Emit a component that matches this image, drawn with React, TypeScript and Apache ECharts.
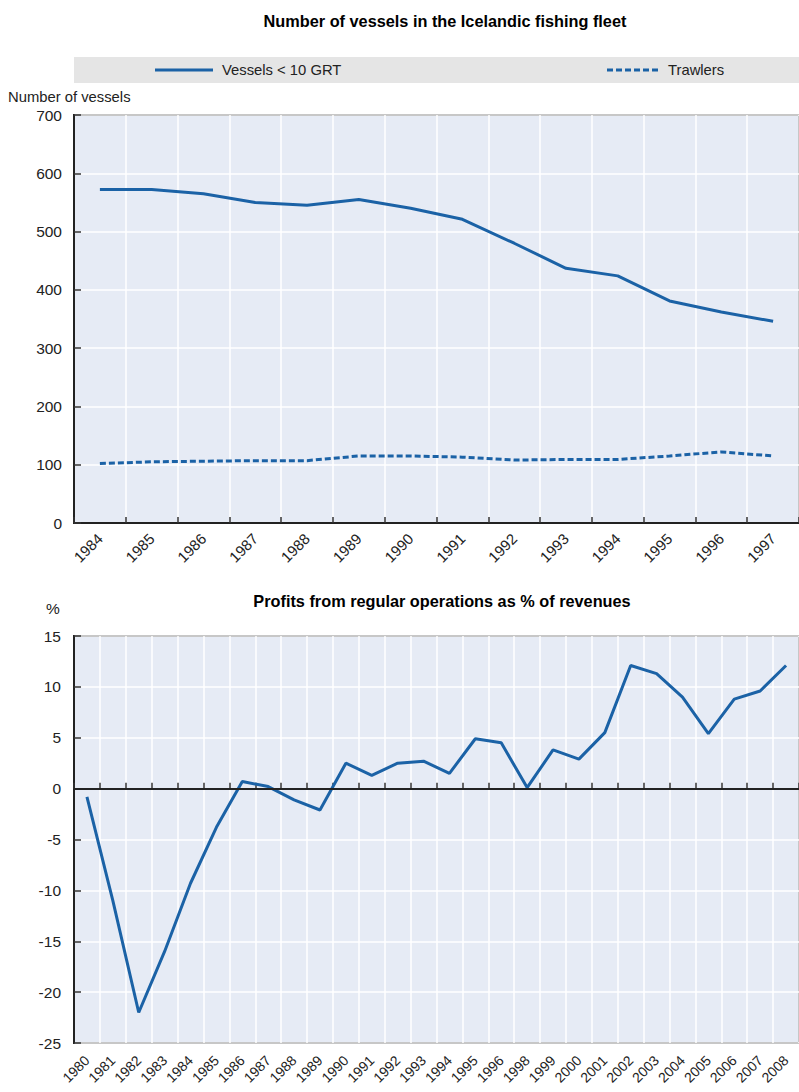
import React, { useEffect, useRef } from 'react';
import * as echarts from 'echarts';

const fleetYears = ['1984', '1985', '1986', '1987', '1988', '1989', '1990', '1991', '1992', '1993', '1994', '1995', '1996', '1997'];
const smallVessels = [572, 572, 565, 550, 545, 555, 540, 521, 480, 437, 424, 381, 362, 346];
const trawlers = [102, 105, 106, 107, 107, 115, 115, 113, 108, 109, 109, 115, 122, 115];

const profitYears = ['1980', '1981', '1982', '1983', '1984', '1985', '1986', '1987', '1988', '1989', '1990', '1991', '1992', '1993', '1994', '1995', '1996', '1998', '1999', '2000', '2001', '2002', '2003', '2004', '2005', '2006', '2007', '2008'];
const profits = [-0.8, -11, -22, -16, -9.3, -3.8, 0.7, 0.2, -1.1, -2.1, 2.5, 1.3, 2.5, 2.7, 1.5, 4.9, 4.5, 0.1, 3.8, 2.9, 5.5, 12.1, 11.3, 9.0, 5.4, 8.8, 9.6, 12.1];

const legendNames = ['Vessels < 10 GRT', 'Trawlers'];

const SANS = '"Liberation Sans", Arial, Helvetica, sans-serif';
const BLUE = '#1b62a6';
const DARK = '#222';
const PLOT_BG = '#e6ebf5';

export default function App() {
  const ref = useRef<HTMLDivElement>(null);
  useEffect(() => {
    const chart = echarts.init(ref.current!, undefined, { renderer: 'svg' });
    const gridCommon = {
      show: true,
      backgroundColor: PLOT_BG,
      borderColor: DARK,
      borderWidth: 2,
    };
    const splitWhite = { show: true, lineStyle: { color: '#ffffff', width: 1.5 } };
    const axisLineDark = { show: true, lineStyle: { color: DARK, width: 2 } };
    const tickInside = (len: number) => ({ show: true, inside: true, length: len, lineStyle: { color: '#333', width: 1.5 } });
    chart.setOption({
      animation: false,
      title: [
        {
          text: 'Number of vessels in the Icelandic fishing fleet',
          left: 440,
          top: 8,
          textAlign: 'center',
          textStyle: { fontFamily: SANS, fontWeight: 'bold', fontSize: 16.3, color: '#000' },
        },
        {
          text: 'Profits from regular operations as % of revenues',
          left: 437,
          top: 588,
          textAlign: 'center',
          textStyle: { fontFamily: SANS, fontWeight: 'bold', fontSize: 16.3, color: '#000' },
        },
      ],
      graphic: [
        { type: 'rect', z: -10, shape: { x: 74, y: 57, width: 725, height: 26 }, style: { fill: '#e5e5e5' } },
        { type: 'line', shape: { x1: 155, y1: 70, x2: 213, y2: 70 }, style: { stroke: BLUE, lineWidth: 3 } },
        {
          type: 'text',
          x: 222,
          y: 70,
          style: { text: legendNames[0], fontFamily: SANS, fontSize: 14.8, fill: DARK, verticalAlign: 'middle' },
        },
        {
          type: 'line',
          shape: { x1: 607, y1: 70, x2: 660, y2: 70 },
          style: { stroke: BLUE, lineWidth: 3, lineDash: [6, 3] },
        },
        {
          type: 'text',
          x: 668,
          y: 70,
          style: { text: legendNames[1], fontFamily: SANS, fontSize: 14.8, fill: DARK, verticalAlign: 'middle' },
        },
        {
          type: 'text',
          x: 8,
          y: 97,
          style: { text: 'Number of vessels', fontFamily: SANS, fontSize: 14.8, fill: DARK, verticalAlign: 'middle' },
        },
        {
          type: 'text',
          x: 46,
          y: 608,
          style: { text: '%', fontFamily: SANS, fontSize: 15.5, fill: DARK, verticalAlign: 'middle' },
        },
      ],
      grid: [
        { ...gridCommon, left: 74, top: 115, width: 728, height: 408 },
        { ...gridCommon, left: 74, top: 636, width: 728, height: 407 },
      ],
      xAxis: [
        {
          gridIndex: 0,
          type: 'category',
          data: fleetYears,
          axisLine: axisLineDark,
          axisTick: tickInside(6),
          axisLabel: { interval: 0, rotate: 45, margin: 13, fontFamily: SANS, fontSize: 15, color: DARK },
          splitLine: splitWhite,
        },
        {
          gridIndex: 1,
          type: 'category',
          data: profitYears,
          axisLine: axisLineDark,
          axisTick: tickInside(6),
          axisLabel: { interval: 0, rotate: 45, margin: 15, fontFamily: SANS, fontSize: 14, color: DARK },
          splitLine: splitWhite,
        },
      ],
      yAxis: [
        {
          gridIndex: 0,
          type: 'value',
          min: 0,
          max: 700,
          interval: 100,
          axisLine: axisLineDark,
          axisTick: tickInside(7),
          axisLabel: { margin: 12, fontFamily: SANS, fontSize: 15.5, color: DARK },
          splitLine: splitWhite,
        },
        {
          gridIndex: 1,
          type: 'value',
          min: -25,
          max: 15,
          interval: 5,
          axisLine: axisLineDark,
          axisTick: tickInside(7),
          axisLabel: { margin: 13, fontFamily: SANS, fontSize: 15.5, color: DARK },
          splitLine: splitWhite,
        },
      ],
      series: [
        {
          name: legendNames[0],
          type: 'line',
          xAxisIndex: 0,
          yAxisIndex: 0,
          data: smallVessels,
          symbol: 'none',
          lineStyle: { color: BLUE, width: 3 },
          itemStyle: { color: BLUE },
        },
        {
          name: legendNames[1],
          type: 'line',
          xAxisIndex: 0,
          yAxisIndex: 0,
          data: trawlers,
          symbol: 'none',
          lineStyle: { color: BLUE, width: 3, type: [6, 3] },
          itemStyle: { color: BLUE },
        },
        {
          name: 'Profits',
          type: 'line',
          xAxisIndex: 1,
          yAxisIndex: 1,
          data: profits,
          symbol: 'none',
          lineStyle: { color: BLUE, width: 3 },
          itemStyle: { color: BLUE },
          markLine: {
            silent: true,
            symbol: 'none',
            label: { show: false },
            lineStyle: { color: DARK, width: 2, type: 'solid' },
            data: [{ yAxis: 0 }],
          },
        },
      ],
    });
    return () => chart.dispose();
  }, []);
  return <div ref={ref} style={{ position: 'absolute', left: 0, top: 0, width: 799, height: 1092 }} />;
}
